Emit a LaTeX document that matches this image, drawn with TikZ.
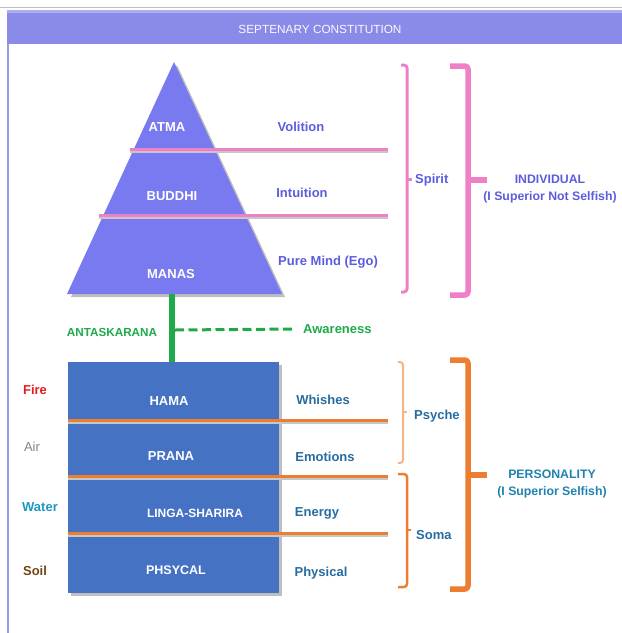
\documentclass[tikz,border=0pt]{standalone}
\usepackage{fontspec}
\setmainfont{Liberation Sans}
\definecolor{hdr}{RGB}{138,138,232}
\definecolor{pyr}{RGB}{122,122,240}
\definecolor{pinkl}{RGB}{238,128,200}
\definecolor{purp}{RGB}{92,92,222}
\definecolor{grn}{RGB}{30,170,72}
\definecolor{boxb}{RGB}{70,114,196}
\definecolor{orn}{RGB}{237,125,49}
\definecolor{lorn}{RGB}{244,180,135}
\definecolor{teal}{RGB}{38,108,160}
\definecolor{fire}{RGB}{228,28,28}
\definecolor{air}{RGB}{130,130,130}
\definecolor{water}{RGB}{28,152,192}
\definecolor{soil}{RGB}{112,70,22}
\begin{document}
\begin{tikzpicture}[x=1pt,y=-1pt,
  txt/.style={font=\fontsize{13}{15}\selectfont\bfseries, inner sep=0pt},
  wlbl/.style={txt, text=white},
  plbl/.style={txt, text=purp},
  tlbl/.style={txt, text=teal},
  pinkline/.style={pinkl, line width=3pt, preaction={draw=black!22, line width=3pt, transform canvas={yshift=-2pt}}},
  ornline/.style={orn, line width=3pt, preaction={draw=black!22, line width=3pt, transform canvas={yshift=-2pt}}},
  brace/.style={line cap=butt, line join=round, rounded corners=3pt}
]
\useasboundingbox (0,0) rectangle (622,633);
% frame
\draw[black!25, line width=0.8pt] (0,7.5) -- (622,7.5);
\fill[hdr] (7,10) rectangle (622,44);
\fill[hdr!70!white] (7,10) rectangle (622,13);
\draw[hdr!85!white, line width=1.6pt] (8,44) -- (8,633);
\node[font=\fontsize{11.8}{13}\selectfont, text=white!96!hdr, inner sep=0pt] (title) at (320,29) {SEPTENARY CONSTITUTION};

% pyramid
\fill[black!25] (177,65) -- (285,297) -- (71,297) -- cycle;
\fill[pyr] (174,62) -- (282,294) -- (67,294) -- cycle;
\coordinate (pyrbase) at (172,294);

% pink dividers
\coordinate (pa1) at (130,149); \coordinate (pa2) at (388,149);
\coordinate (pb1) at (99,215);  \coordinate (pb2) at (388,215);
\draw[pinkline] (pa1) -- (pa2);
\draw[pinkline] (pb1) -- (pb2);

\node[wlbl] (atma) at (167,127) {ATMA};
\node[wlbl] (buddhi) at (172,196) {BUDDHI};
\node[wlbl] (manas) at (171,274) {MANAS};
\node[plbl] (volition) at (301,127) {Volition};
\node[plbl] (intuition) at (302,193) {Intuition};
\node[plbl] (puremind) at (328,262) {Pure Mind (Ego)};

% spirit brace
\draw[pinkl, line width=3pt, brace] (401,65) -- (407,65) -- (407,292) -- (401,292);
\draw[pinkl, line width=3pt] (407,179) -- (412,179);
\node[plbl, anchor=west] (spirit) at (415,180) {Spirit};
% individual brace
\draw[pinkl, line width=5.5pt, brace] (450,66) -- (468,66) -- (468,295) -- (450,295);
\draw[pinkl, line width=5.5pt] (468,180) -- (487,180);
\node[plbl, align=center, font=\fontsize{12.3}{17}\selectfont\bfseries] (individual) at (550,189) {INDIVIDUAL\\(I Superior Not Selfish)};

% box
\fill[black!25] (71,365) rectangle (282,596);
\fill[boxb] (68,362) rectangle (279,593);
\coordinate (boxtop) at (172,362);

% green antaskarana
\draw[grn, line width=6pt] (pyrbase) -- (boxtop);
\coordinate (gmid) at (175,330);
\node[txt, text=grn, font=\fontsize{11.7}{14}\selectfont\bfseries] (antas) at (112,332) {ANTASKARANA};
\node[txt, text=grn, anchor=west] (aware) at (303,329) {Awareness};
\draw[grn, line width=3pt, dash pattern=on 9pt off 4.5pt] (gmid) -- ([xshift=-8pt]aware.west);

% orange dividers
\coordinate (o1a) at (68,420); \coordinate (o1b) at (388,420);
\coordinate (o2a) at (68,476); \coordinate (o2b) at (388,476);
\coordinate (o3a) at (68,533); \coordinate (o3b) at (388,533);
\draw[ornline] (o1a) -- (o1b);
\draw[ornline] (o2a) -- (o2b);
\draw[ornline] (o3a) -- (o3b);

\node[wlbl] (hama) at (169,401) {HAMA};
\node[wlbl] (prana) at (171,456) {PRANA};
\node[wlbl, font=\fontsize{12}{14}\selectfont\bfseries] (linga) at (195,513) {LINGA-SHARIRA};
\node[wlbl, font=\fontsize{12.5}{14}\selectfont\bfseries] (phys) at (176,570) {PHSYCAL};

\node[txt, text=fire] (fire) at (35,390) {Fire};
\node[txt, text=air, font=\fontsize{13}{15}\selectfont] (airn) at (32,447) {Air};
\node[txt, text=water] (watern) at (40,507) {Water};
\node[txt, text=soil] (soiln) at (35,571) {Soil};

\node[tlbl] (wishes) at (323,400) {Whishes};
\node[tlbl] (emotions) at (325,457) {Emotions};
\node[tlbl] (energy) at (317,513) {Energy};
\node[tlbl] (physical) at (321,573) {Physical};

% psyche brace
\draw[lorn, line width=2pt, brace] (398,362) -- (403,362) -- (403,463) -- (398,463);
\draw[lorn, line width=2pt] (403,412) -- (407,412);
\node[tlbl, anchor=west] (psyche) at (414,416) {Psyche};
% soma brace
\draw[orn, line width=2.5pt, brace] (398,474) -- (407,474) -- (407,587) -- (398,587);
\draw[orn, line width=2.5pt] (407,530) -- (411,530);
\node[tlbl, anchor=west] (soma) at (416,535) {Soma};
% personality brace
\draw[orn, line width=5.5pt, brace] (450,360) -- (468,360) -- (468,589) -- (450,589);
\draw[orn, line width=5.5pt] (468,475) -- (487,475);
\node[tlbl, align=center, font=\fontsize{12.3}{17}\selectfont\bfseries, text=teal!85!cyan] (personality) at (552,484) {PERSONALITY\\(I Superior Selfish)};
\end{tikzpicture}
\end{document}
